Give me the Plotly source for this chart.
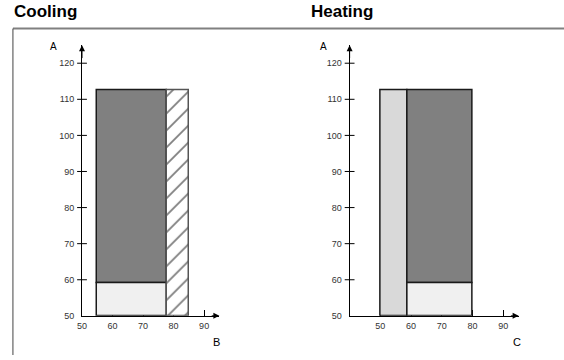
import plotly.graph_objects as go

# Cooling zones (B on x, A on y)
cool_x0 = [55, 55, 78]
cool_x1 = [78, 78, 85]
cool_y0 = [59, 50, 50]
cool_y1 = [112.5, 59, 112.5]
cool_fill = ["#808080", "#f0f0f0", "white"]

# Heating zones (C on x, A on y)
heat_x0 = [50, 59, 59]
heat_x1 = [59, 80, 80]
heat_y0 = [50, 59, 50]
heat_y1 = [112.5, 112.5, 59]
heat_fill = ["#d9d9d9", "#808080", "#f0f0f0"]

y_ticks = [50, 60, 70, 80, 90, 100, 110, 120]
cool_xticks = [50, 60, 70, 80, 90]
heat_xticks = [50, 60, 70, 80, 90]

FONT = "Liberation Sans, Arial, sans-serif"
W, H = 564, 360

fig = go.Figure()


def add_zones(x0, x1, y0, y1, fills, xa, ya, hatch_idx=None):
    for i in range(len(x0)):
        pat = None
        line_col = "#1a1a1a"
        if i == hatch_idx:
            pat = dict(shape="/", fgcolor="black", bgcolor="white", size=12, solidity=0.15)
            line_col = "#555555"
        fig.add_bar(
            x=[(x0[i] + x1[i]) / 2], y=[y1[i] - y0[i]], base=[y0[i]],
            width=[x1[i] - x0[i]], xaxis=xa, yaxis=ya,
            marker=dict(color=fills[i], line=dict(color=line_col, width=1.5), pattern=pat),
            showlegend=False, hoverinfo="skip",
        )


add_zones(cool_x0, cool_x1, cool_y0, cool_y1, cool_fill, "x", "y", hatch_idx=2)
add_zones(heat_x0, heat_x1, heat_y0, heat_y1, heat_fill, "x2", "y2")

# crossing tick marks on the y axes
for xa, ya, x_org in [("x", "y", 50), ("x2", "y2", 40)]:
    fig.add_scatter(
        x=[x_org] * (len(y_ticks) - 1), y=y_ticks[1:], xaxis=xa, yaxis=ya,
        mode="markers", marker=dict(symbol="line-ew", size=7, line=dict(color="black", width=1)),
        cliponaxis=False, showlegend=False, hoverinfo="skip",
    )


def px(x):
    return x / W


def py(y):
    return 1 - y / H


xcommon = dict(showline=True, linecolor="black", linewidth=1, ticks="inside", ticklen=6,
               tickcolor="black", showgrid=False, zeroline=False, layer="below traces",
               tickfont=dict(family=FONT, size=9, color="#333"), ticklabelstandoff=1)
ycommon = dict(showline=True, linecolor="black", linewidth=1, ticks="", showgrid=False,
               zeroline=False, range=[50, 125], tickvals=y_ticks,
               tickfont=dict(family=FONT, size=9, color="#333"), ticklabelstandoff=5)

fig.update_layout(
    width=W, height=H, margin=dict(l=0, r=0, t=0, b=0),
    paper_bgcolor="white", plot_bgcolor="white", barmode="overlay", bargap=0,
    xaxis=dict(domain=[px(77.7), px(216.3)], range=[50, 95], tickvals=cool_xticks,
               anchor="y", **xcommon),
    yaxis=dict(domain=[py(320.3), py(45.8)], anchor="x", **ycommon),
    xaxis2=dict(domain=[px(347.7), px(518.2)], range=[40, 95], tickvals=heat_xticks,
                anchor="y2", **xcommon),
    yaxis2=dict(domain=[py(320.3), py(45.8)], anchor="x2", **ycommon),
    font=dict(family=FONT),
)

# axis arrows
for xa, ya, x_org in [("x", "y", 50), ("x2", "y2", 40)]:
    fig.add_annotation(x=x_org, y=125, ax=x_org, ay=121, xref=xa, yref=ya, axref=xa, ayref=ya,
                       showarrow=True, arrowhead=2, arrowsize=1.2, arrowwidth=1, arrowcolor="black",
                       text="")
    fig.add_annotation(x=95, y=50, ax=92, ay=50, xref=xa, yref=ya, axref=xa, ayref=ya,
                       showarrow=True, arrowhead=2, arrowsize=1.2, arrowwidth=1, arrowcolor="black",
                       text="")

# titles and axis letters
texts = [
    ("Cooling", 7, 12, 17, True, "left"),
    ("Heating", 307, 12, 17, True, "left"),
    ("A", 49, 47, 10, False, "center"),
    ("B", 213, 347, 11, False, "center"),
    ("A", 321, 47, 10, False, "center"),
    ("C", 517, 347, 11, False, "center"),
]
for t, x, y, s, bold, al in texts:
    fig.add_annotation(text=f"<b>{t}</b>" if bold else t, x=px(x), y=py(y), xref="paper", yref="paper",
                       xanchor=al, yanchor="middle", showarrow=False,
                       font=dict(family=FONT, size=s, color="black"))

# frame lines
fig.add_shape(type="line", xref="paper", yref="paper", x0=px(8), x1=1, y0=py(29), y1=py(29),
              line=dict(color="#808080", width=2))
fig.add_shape(type="line", xref="paper", yref="paper", x0=px(8), x1=px(8), y0=0, y1=py(29),
              line=dict(color="#444444", width=1))

fig.write_html("out.html", config={"displayModeBar": False},
               post_script="document.body.style.margin='0';")
